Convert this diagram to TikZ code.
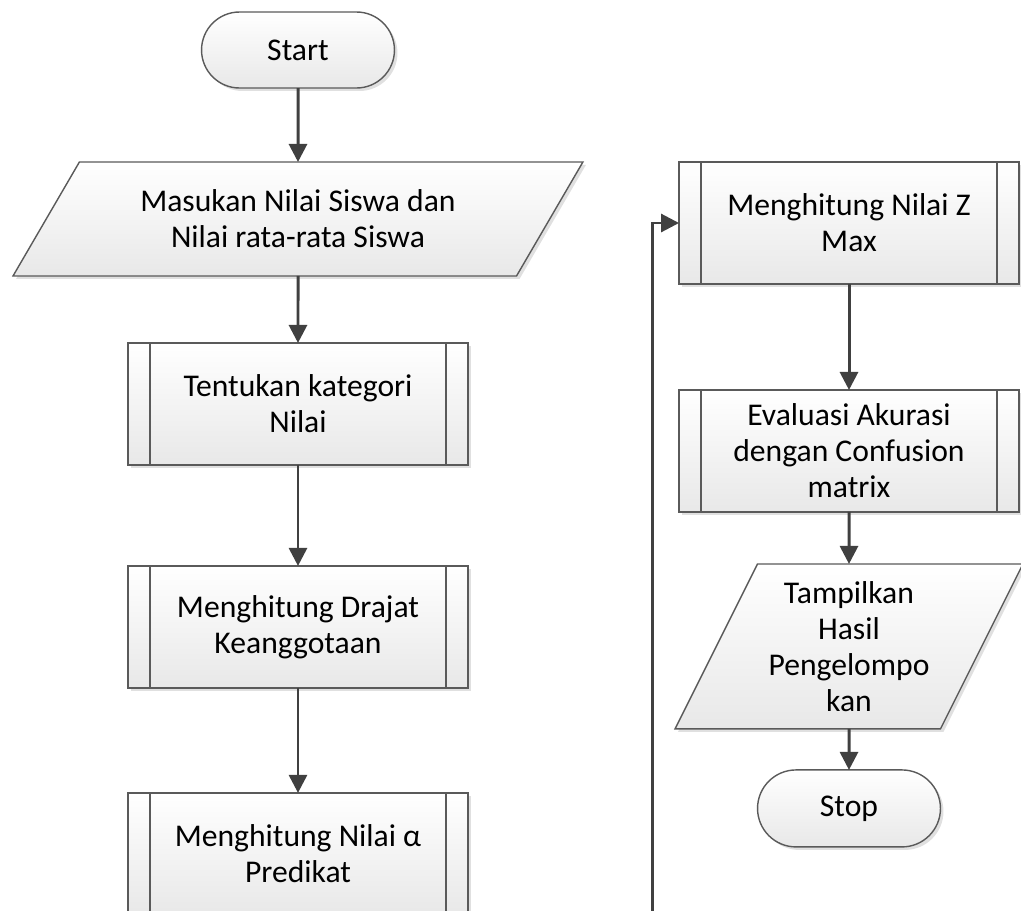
\documentclass[tikz,border=0pt]{standalone}
\usepackage{fontspec}
\setmainfont{Carlito}
\usetikzlibrary{shapes.geometric,shapes.misc,arrows.meta,positioning,shadows}
\definecolor{lineclr}{HTML}{404040}
\definecolor{edgeclr}{HTML}{5A5A5A}

\begin{document}
\begin{tikzpicture}[
  x=0.02cm, y=-0.02cm,
  font=\fontsize{18}{20.5}\selectfont,
  >={Triangle[length=0.36cm, width=0.36cm]},
  base/.style={draw=edgeclr, line width=0.8pt, top color=white, bottom color=black!9,
               drop shadow={shadow xshift=0.06cm, shadow yshift=-0.06cm, fill=black!12, opacity=1},
               align=center, outer sep=0pt, inner sep=2pt},
  term/.style={base, rounded rectangle, minimum width=4cm, minimum height=1.52cm},
  io/.style={base, trapezium, trapezium left angle=#1, trapezium right angle=180-#1,
             trapezium stretches body},
  proc/.style={base, rectangle, minimum width=6.8cm, minimum height=2.44cm,
               path picture={
                 \draw[edgeclr, line width=0.8pt]
                   ([xshift=0.44cm]path picture bounding box.north west) -- ([xshift=0.44cm]path picture bounding box.south west)
                   ([xshift=-0.44cm]path picture bounding box.north east) -- ([xshift=-0.44cm]path picture bounding box.south east);}},
  link/.style={->, line width=1.7pt, draw=lineclr},
]
\useasboundingbox (0,0) rectangle (1021,910);
\clip (0,0) rectangle (1021,910);

% left column
\node[term] (start) at (298,50) {Start};
\node[io=44.5, below=1.48cm of start, minimum width=11.4cm, minimum height=2.28cm] (input) {Masukan Nilai Siswa dan\\Nilai rata-rata Siswa};
\node[proc, below=1.34cm of input]    (kategori) {Tentukan kategori\\Nilai};
\node[proc, below=2.02cm of kategori] (derajat)  {Menghitung Drajat\\Keanggotaan};
\node[proc, below=2.1cm of derajat]   (alpha)    {Menghitung Nilai α\\Predikat};

% right column
\node[proc] (zmax) at (849,223) {Menghitung Nilai Z\\Max};
\node[proc, below=2.12cm of zmax] (akurasi) {Evaluasi Akurasi\\dengan Confusion\\matrix};
\node[io=59, below=1.04cm of akurasi, minimum width=6.96cm, minimum height=3.3cm] (hasil) {Tampilkan\\Hasil\\Pengelompo\\kan};
\node[term, below=0.82cm of hasil, minimum width=3.8cm, minimum height=1.54cm] (stop) {Stop};

\coordinate (loop) at (652,915);

\draw[link] (start) -- (input);
\draw[link] (input) -- (kategori);
\draw[link] (kategori) -- (derajat);
\draw[link] (derajat) -- (alpha);
\draw[link] (zmax) -- (akurasi);
\draw[link] (akurasi) -- (hasil);
\draw[link] (hasil) -- (stop);
\draw[link] (loop) |- (zmax.west);

\end{tikzpicture}
\end{document}
